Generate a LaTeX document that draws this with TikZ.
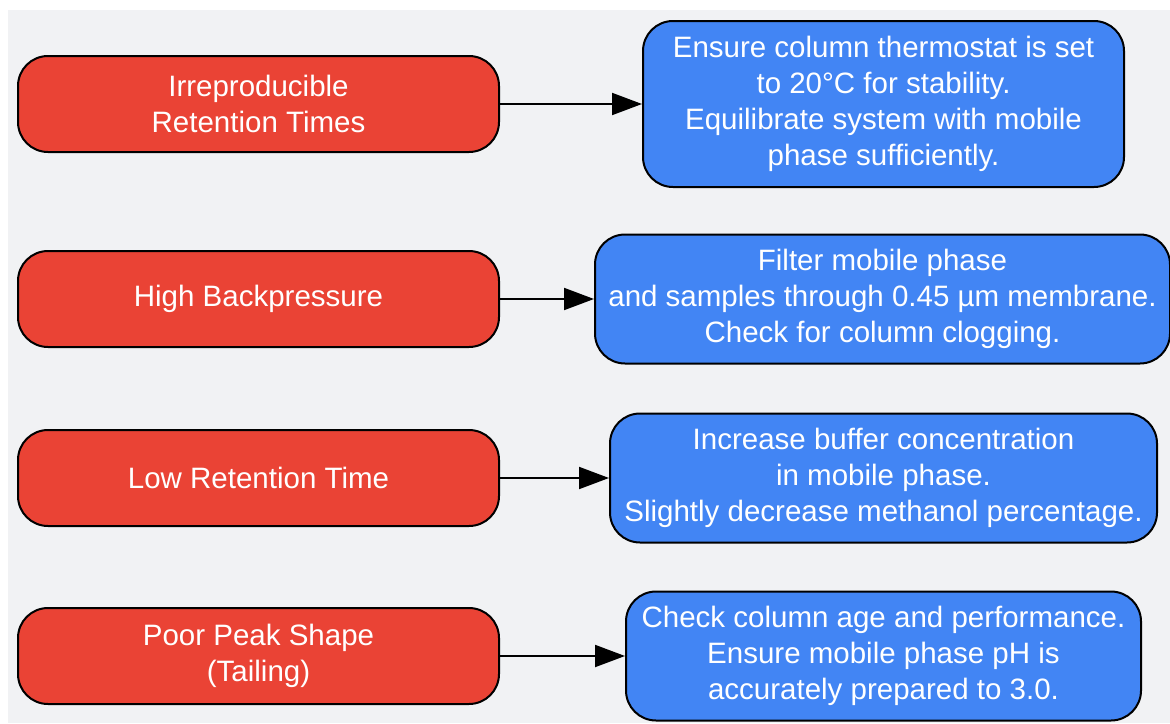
\documentclass[tikz,border=0pt]{standalone}
\usepackage{fontspec}
\setmainfont{Liberation Sans}
\usepackage{tikz}
\usetikzlibrary{arrows.meta, positioning}
\definecolor{probred}{HTML}{EA4335}
\definecolor{fixblue}{HTML}{4285F4}
\definecolor{panelgray}{HTML}{F1F2F4}
\tikzset{x=1pt, y=-1pt, node distance=100pt,
	box/.style={draw=black, line width=2pt, rounded corners=30pt, text=white, align=center,
		font=\fontsize{29.5}{36}\selectfont, inner sep=0pt, minimum height=96pt},
	problem/.style={box, fill=probred, minimum width=481pt},
	remedy/.style={box, fill=fixblue, minimum height=129pt},
	link/.style={line width=2pt, -{Triangle[length=30pt, width=22pt]}}}

\begin{document}
\begin{tikzpicture}
	\useasboundingbox (0,0) rectangle (1170,723);
	\fill[panelgray] (8,10) rectangle (1170,723);
	\node[problem] (irr) at (258.5,104) {Irreproducible\\Retention Times};
	\node[problem] (back) at (258.5,299) {High Backpressure};
	\node[problem] (low) at (258.5,478) {Low Retention Time};
	\node[problem] (peak) at (258.5,656) {Poor Peak Shape\\(Tailing)};
	\node[remedy, minimum width=481pt, minimum height=166pt] (therm) [right=142pt of irr]
		{Ensure column thermostat is set\\to 20°C for stability.\\Equilibrate system with mobile\\phase sufficiently.};
	\node[remedy, minimum width=575pt] (filt) [right=94pt of back]
		{Filter mobile phase\\and samples through 0.45 µm membrane.\\Check for column clogging.};
	\node[remedy, minimum width=547pt] (buff) [right=109pt of low]
		{Increase buffer concentration\\in mobile phase.\\Slightly decrease methanol percentage.};
	\node[remedy, minimum width=515pt] (age) [right=125pt of peak]
		{Check column age and performance.\\Ensure mobile phase pH is\\accurately prepared to 3.0.};
	\path[link]
		(irr) edge (therm)
		(back) edge (filt)
		(low) edge (buff)
		(peak) edge (age)
		;
\end{tikzpicture}
\end{document}
